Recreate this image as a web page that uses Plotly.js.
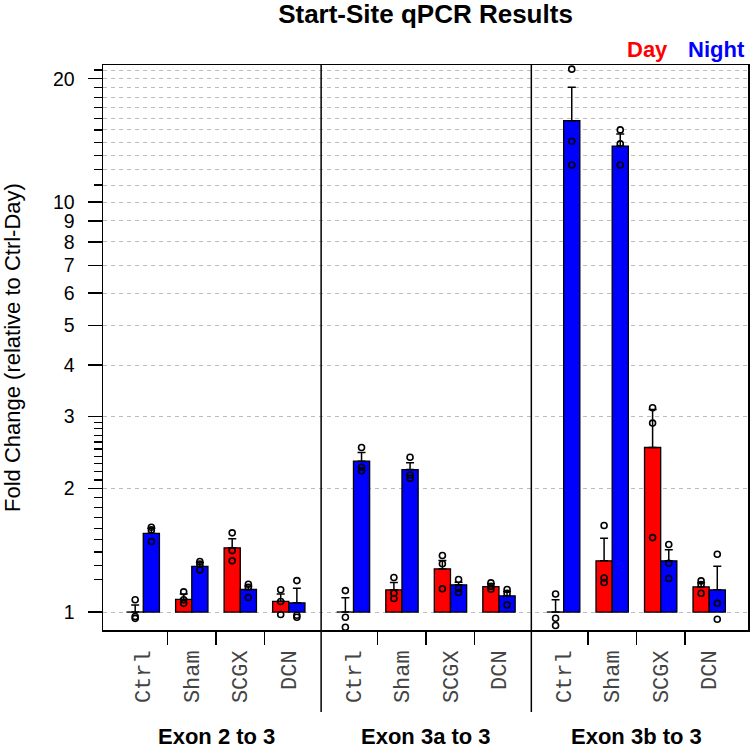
<!DOCTYPE html>
<html>
<head>
<meta charset="utf-8">
<script src="https://cdn.plot.ly/plotly-3.0.1.min.js"></script>
<style>html,body{margin:0;padding:0;background:#fff;}#chart{width:750px;height:747px;}</style>
</head>
<body>
<div id="chart"></div>
<script>
// ---- data (panel-major: Exon 2 to 3, Exon 3a to 3, Exon 3b to 3; groups Ctrl, Sham, SCGX, DCN) ----
const categories = ['Ctrl', 'Sham', 'SCGX', 'DCN'];
const panels = ['Exon 2 to 3', 'Exon 3a to 3', 'Exon 3b to 3'];
const seriesNames = ['Day', 'Night'];

const dayMean   = [1.000, 1.074, 1.434, 1.062,   1.000, 1.133, 1.274, 1.154,   1.000, 1.333, 2.520, 1.152];
const nightMean = [1.556, 1.293, 1.135, 1.053,   2.333, 2.226, 1.165, 1.095,   15.80, 13.70, 1.333, 1.133];

const dayErrTop   = [1.041, 1.107, 1.510, 1.107,   1.083, 1.180, 1.336, 1.172,   1.071, 1.513, 3.120, 1.178];
const nightErrTop = [1.600, 1.320, 1.158, 1.143,   2.450, 2.314, 1.182, 1.122,   19.05, 14.66, 1.418, 1.293];

const dayPoints = [
  [1.071, 0.975, 0.965], [1.120, 1.071, 1.050], [1.560, 1.412, 1.333], [1.133, 1.061, 0.986],
  [1.128, 0.971, 0.918], [1.214, 1.111, 1.079], [1.374, 1.311, 1.139], [1.178, 1.156, 1.137],
  [1.107, 0.966, 0.927], [1.626, 1.211, 1.180], [3.150, 2.890, 1.519], [1.191, 1.167, 1.111]
];
const nightPoints = [
  [1.610, 1.586, 1.486], [1.328, 1.310, 1.267], [1.169, 1.149, 1.085], [1.193, 0.982, 0.971],
  [2.520, 2.255, 2.210], [2.385, 2.160, 2.120], [1.200, 1.143, 1.116], [1.135, 1.111, 1.041],
  [21.10, 14.07, 12.32], [15.00, 13.87, 12.32], [1.461, 1.315, 1.207], [1.383, 1.050, 0.960]
];

const yTickVals = [1, 2, 3, 4, 5, 6, 7, 8, 9, 10, 20];
const yTickText = ['1', '2', '3', '4', '5', '6', '7', '8', '9', '10', '20'];
const yMinorTicks = [1.2, 1.3, 1.4, 1.5, 1.6, 1.7, 1.8, 1.9, 2.1, 2.2, 2.3, 2.4, 2.5, 2.6, 2.7, 2.8, 2.9,
                     11, 12, 13, 14, 15, 16, 17, 18, 19, 21];
const yExtraGrid = [11, 12, 13, 14, 15, 16, 17, 18, 19, 21];

// ---- layout helpers ----
const GROUP_STEP = 3, PANEL_STEP = 13;
const centers = [], labels = [], sepTicks = [];
panels.forEach((p, pi) => {
  categories.forEach((c, gi) => {
    centers.push(pi * PANEL_STEP + gi * GROUP_STEP);
    labels.push(c);
    if (gi > 0) sepTicks.push(pi * PANEL_STEP + gi * GROUP_STEP - GROUP_STEP / 2);
  });
});
const dayX = centers.map(c => c - 0.5);
const nightX = centers.map(c => c + 0.5);
const BASE = 1;
const FONT = 'Liberation Sans, Arial, sans-serif';

function barTrace(xs, means, color, name) {
  return {
    type: 'bar', name: name, x: xs,
    y: means.map(v => Math.max(v - BASE, 1e-4)), base: BASE, width: 1,
    marker: {color: color, line: {color: '#000', width: 1.3}},
    hoverinfo: 'skip', showlegend: false
  };
}
function errTrace(xs, means, tops) {
  return {
    type: 'scatter', mode: 'markers', x: xs, y: means,
    marker: {size: 1, opacity: 0},
    error_y: {type: 'data', symmetric: false,
      array: tops.map((t, i) => t - means[i]), arrayminus: means.map(() => 0),
      color: '#000', thickness: 1.5, width: 4},
    hoverinfo: 'skip', showlegend: false
  };
}
function pointTrace(xs, pts) {
  const px = [], py = [];
  pts.forEach((arr, i) => arr.forEach(v => { px.push(xs[i]); py.push(v); }));
  return {
    type: 'scatter', mode: 'markers', x: px, y: py,
    marker: {symbol: 'circle-open', size: 6, color: '#000', line: {width: 1.6, color: '#000'}},
    hoverinfo: 'skip', showlegend: false
  };
}

const data = [
  barTrace(dayX, dayMean, '#FF0000', seriesNames[0]),
  barTrace(nightX, nightMean, '#0000FF', seriesNames[1]),
  errTrace(dayX, dayMean, dayErrTop),
  errTrace(nightX, nightMean, nightErrTop),
  pointTrace(dayX, dayPoints),
  pointTrace(nightX, nightPoints),
  {type: 'scatter', x: [0], y: [1], yaxis: 'y2', mode: 'markers', marker: {opacity: 0}, hoverinfo: 'skip', showlegend: false}
];

const yRange = [Math.log10(0.904), Math.log10(21.6)];
const plotW = 645, plotH = 565;

const shapes = [];
for (let pi = 1; pi < panels.length; pi++) {
  const xs = pi * PANEL_STEP - (PANEL_STEP - 3 * GROUP_STEP) / 2;
  shapes.push({type: 'line', xref: 'x', yref: 'paper', x0: xs, x1: xs, y0: -82 / plotH, y1: 1,
    line: {color: '#000', width: 1.5}});
}

const annotations = [
  {text: '<b>Day</b>', xref: 'paper', yref: 'paper', x: (670 - 103) / plotW, y: 1 + 15 / plotH,
   xanchor: 'right', yanchor: 'middle', showarrow: false, font: {family: FONT, size: 22, color: '#FF0000'}},
  {text: '<b>Night</b>', xref: 'paper', yref: 'paper', x: (686 - 103) / plotW, y: 1 + 15 / plotH,
   xanchor: 'left', yanchor: 'middle', showarrow: false, font: {family: FONT, size: 22, color: '#0000FF'}},
  {text: 'Fold Change (relative to Ctrl-Day)', xref: 'paper', yref: 'paper', x: (12.5 - 103) / plotW, y: 0.5,
   textangle: -90, xanchor: 'center', yanchor: 'middle', showarrow: false, font: {family: FONT, size: 22, color: '#000'}}
];
panels.forEach((p, pi) => {
  annotations.push({text: '<b>' + p + '</b>', xref: 'x', yref: 'paper',
    x: pi * PANEL_STEP + 1.5 * GROUP_STEP, y: -(736 - 629.5) / plotH,
    xanchor: 'center', yanchor: 'middle', showarrow: false, font: {family: FONT, size: 22, color: '#000'}});
});

const layout = {
  width: 750, height: 747,
  margin: {l: 103, r: 2, t: 65, b: 117},
  paper_bgcolor: '#fff', plot_bgcolor: '#fff',
  barmode: 'overlay',
  showlegend: false,
  title: {text: '<b>Start-Site qPCR Results</b>', xref: 'paper', x: 0.5, xanchor: 'center',
          yref: 'container', y: 1 - 14 / 747, yanchor: 'middle',
          font: {family: FONT, size: 26, color: '#000'}},
  xaxis: {
    range: [-2.49, 37.4], tickmode: 'array', tickvals: centers, ticktext: labels, tickangle: -90,
    ticks: '', tickfont: {family: 'Liberation Mono, Courier New, monospace', size: 22, color: '#444'},
    ticklabelstandoff: 10,
    showgrid: false, zeroline: false, showline: true, mirror: true, linecolor: '#000', linewidth: 1.5,
    minor: {tickmode: 'array', tickvals: sepTicks, ticks: 'outside', ticklen: 13, tickwidth: 1.5, tickcolor: '#000', showgrid: false},
    automargin: false, fixedrange: true
  },
  yaxis: {
    type: 'log', range: yRange, tickmode: 'array', tickvals: yTickVals, ticktext: yTickText,
    ticks: 'outside', ticklen: 14, tickwidth: 1.5, tickcolor: '#000',
    tickfont: {family: FONT, size: 19.5, color: '#000'}, ticklabelstandoff: 9,
    showgrid: true, gridcolor: '#BDBDBD', gridwidth: 1, griddash: '4px,4px',
    zeroline: false, showline: true, mirror: true, linecolor: '#000', linewidth: 1.5,
    minor: {tickmode: 'array', tickvals: yMinorTicks, ticks: 'outside', ticklen: 8, tickwidth: 1.3, tickcolor: '#000', showgrid: false},
    automargin: false, fixedrange: true
  },
  yaxis2: {
    type: 'log', range: yRange, overlaying: 'y', tickmode: 'array', tickvals: yExtraGrid,
    showticklabels: false, ticks: '', showline: false, zeroline: false,
    showgrid: true, gridcolor: '#BDBDBD', gridwidth: 1, griddash: '4px,4px', automargin: false
  },
  shapes: shapes,
  annotations: annotations
};

Plotly.newPlot('chart', data, layout, {staticPlot: true, displayModeBar: false});
</script>
</body>
</html>
